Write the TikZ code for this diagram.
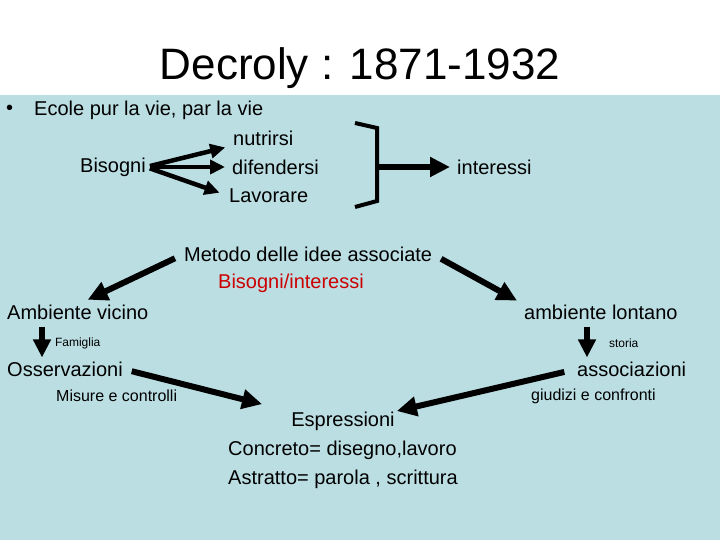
\documentclass[tikz,border=0pt]{standalone}
\usepackage{fontspec}
\setmainfont{Liberation Sans}
\usetikzlibrary{arrows.meta,positioning}
\definecolor{bgblue}{RGB}{187,222,227}
\definecolor{txtred}{RGB}{204,0,0}

\begin{document}
\begin{tikzpicture}[x=1pt,y=-1pt, txt/.style={font=\fontsize{20}{24}\selectfont,inner sep=0pt,anchor=west}, small/.style={font=\fontsize{16}{19}\selectfont,inner sep=0pt,anchor=west}, note/.style={font=\fontsize{12}{14}\selectfont,inner sep=0pt}, arr/.style={-{Triangle[length=15pt,width=14pt]},line width=4.5pt}, big/.style={-{Triangle[length=20pt,width=19pt]},line width=6pt}, dn/.style={-{Triangle[length=18pt,width=17pt]},line width=6pt}]
\useasboundingbox (0,0) rectangle (720,540);
\fill[white] (0,0) rectangle (720,95);
\fill[bgblue] (0,95) rectangle (720,540);
\node[font=\fontsize{44}{50}\selectfont,inner sep=0pt] (title) at (360,68) {Decroly : 1871-1932};
\node[txt] (dot) at (6,110) {•};
\node[txt] (ecole) at (34,110) {Ecole pur la vie, par la vie};
\node[txt] (bis) at (80,167) {Bisogni};
\node[txt] (nut) at (233,138) {nutrirsi};
\node[txt] (dif) at (232,167) {difendersi};
\node[txt] (lav) at (229,196) {Lavorare};
\node[txt] (int) at (457,167) {interessi};
\draw[arr,shorten <=4pt,shorten >=8pt] (bis.east) -- (nut.south west);
\draw[arr,shorten <=4pt,shorten >=7pt] (bis.east) -- (dif.west);
\draw[arr,shorten <=4pt,shorten >=10pt] (bis.east) -- (lav.west);
\draw[line width=4pt] (355,123) -- (377,128) -- (377,201) -- (355,207);
\coordinate (bk) at (377,167);
\draw[big,shorten >=7pt] (bk) -- (int.west);
\node[txt] (met) at (184,254) {Metodo delle idee associate};
\node[txt,text=txtred] (bi) at (218,283) {Bisogni/interessi};
\node[txt] (ambv) at (7,312) {Ambiente vicino};
\node[txt] (ambl) at (524,312) {ambiente lontano};
\node[txt] (oss) at (7,369) {Osservazioni};
\node[txt] (ass) at (577,369) {associazioni};
\node[small] (mis) at (56,396) {Misure e controlli};
\node[small] (giu) at (531,396) {giudizi e confronti};
\node[font=\fontsize{20}{24}\selectfont,inner sep=0pt] (esp) at (343,421) {Espressioni};
\node[txt] (conc) at (228,450) {Concreto= disegno,lavoro};
\node[txt] (astr) at (228,479) {Astratto= parola , scrittura};
\draw[big,shorten <=10pt,shorten >=11pt] (met.west) -- (ambv.north);
\draw[big,shorten <=10pt,shorten >=8pt] (met.east) -- (ambl.north west);
\draw[dn,shorten <=7pt,shorten >=4pt] ([xshift=35pt]ambv.south west) -- ([xshift=35pt]oss.north west) node[note,midway,right=10pt,yshift=-3pt] (fam) {Famiglia};
\draw[dn,shorten <=7pt,shorten >=4pt] ([xshift=63pt]ambl.south west) -- ([xshift=10pt]ass.north west) node[note,midway,right=19pt,yshift=-3pt] (sto) {storia};
\draw[big,shorten <=9pt,shorten >=30pt] (oss.east) -- (esp.north west);
\draw[big,shorten <=13pt,shorten >=2pt] (ass.west) -- (esp.north east);
\end{tikzpicture}
\end{document}
